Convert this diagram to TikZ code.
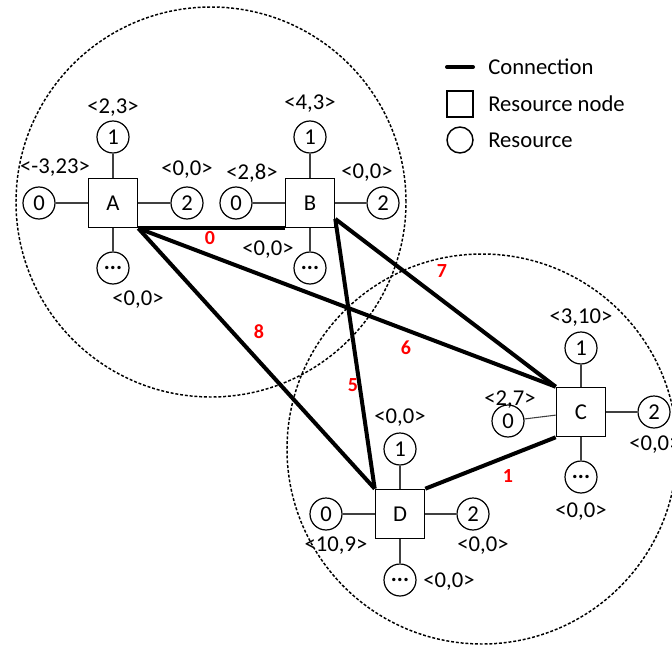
\documentclass[tikz,border=0pt]{standalone}
\usepackage{fontspec}
\setmainfont{Carlito}
\usetikzlibrary{calc}
\begin{document}
\begin{tikzpicture}[x=0.75pt,y=-0.75pt,
  every node/.style={font=\fontsize{17}{20}\selectfont, inner sep=0pt},
  rnode/.style={draw, line width=1.2pt, fill=white, minimum size=36.75pt},
  res/.style={draw, circle, line width=0.9pt, fill=white, minimum size=24pt},
  stub/.style={line width=0.8pt, black!75},
  conn/.style={line width=3pt},
  area/.style={line width=1.1pt, dash pattern=on 2.2pt off 1.4pt},
  wt/.style={text=red, font=\fontsize{15}{18}\selectfont\bfseries},
  lbl/.style={}]
\useasboundingbox (0,0) rectangle (672,646);

% coverage areas
\draw[area] (211,202) circle[radius=146.25pt];
\draw[area] (482,449) circle[radius=146.25pt];

% resource nodes
\node[rnode] (A) at (113,203) {A};
\node[rnode] (B) at (310,203) {B};
\node[rnode] (C) at (581,412) {C};
\node[rnode] (D) at (400,514) {D};

% resources of A
\node[res] (A0) at (39,203) {0};
\node[res] (A1) at (113,137) {1};
\node[res] (A2) at (187,203) {2};
\node[res] (A3) at (113,268) {\textbf{...}};
% resources of B
\node[res] (B0) at (236,203) {0};
\node[res] (B1) at (310,137) {1};
\node[res] (B2) at (383,203) {2};
\node[res] (B3) at (310,268) {\textbf{...}};
% resources of C
\node[res] (C0) at (508,421) {0};
\node[res] (C1) at (581,348) {1};
\node[res] (C2) at (654,412) {2};
\node[res] (C3) at (581,477) {\textbf{...}};
% resources of D
\node[res] (D0) at (326,514) {0};
\node[res] (D1) at (400,449) {1};
\node[res] (D2) at (473,514) {2};
\node[res] (D3) at (400,580) {\textbf{...}};

\foreach \n in {A,B,C,D}{
  \foreach \r in {0,1,2,3}{
    \draw[stub] (\n) -- (\n\r);
  }
}

% connections
\coordinate (Bx) at ([yshift=7pt]B.south east);
\draw[conn] (A.south east) -- (B.south west);
\draw[conn] (A.south east) -- (D.north west);
\draw[conn] (A.south east) -- (C.north west);
\draw[conn] (Bx) -- (D.north west);
\draw[conn] (Bx) -- (C.north west);
\draw[conn] (D.north east) -- (C.south west);

% connection weights
\node[wt] (w0) at (210,238) {0};
\node[wt] (w8) at (259,332) {8};
\node[wt] (w6) at (406,348) {6};
\node[wt] (w5) at (353,385) {5};
\node[wt] (w7) at (442,271) {7};
\node[wt] (w1) at (508,476) {1};

% resource values
\node[lbl] (lA1) at (113,108) {<2,3>};
\node[lbl] (lA0) at (55,168) {<-3,23>};
\node[lbl] (lA2) at (187,170) {<0,0>};
\node[lbl] (lA3) at (138,300) {<0,0>};
\node[lbl] (lB1) at (310,104) {<4,3>};
\node[lbl] (lB0) at (252,173) {<2,8>};
\node[lbl] (lB2) at (367,173) {<0,0>};
\node[lbl] (lB3) at (268,250) {<0,0>};
\node[lbl] (lC1) at (581,318) {<3,10>};
\node[lbl] (lC0) at (510,400) {<2,7>};
\node[lbl,anchor=west] (lC2) at (629,445) {<0,0>};
\node[lbl] (lC3) at (581,512) {<0,0>};
\node[lbl] (lD1) at (400,418) {<0,0>};
\node[lbl] (lD0) at (336,546) {<10,9>};
\node[lbl] (lD2) at (483,546) {<0,0>};
\node[lbl] (lD3) at (449,582) {<0,0>};

% legend
\coordinate (k1a) at (447,67);
\coordinate (k1b) at (473,67);
\draw[conn, line cap=round] (k1a) -- (k1b);
\node[anchor=west] (t1) at (488,67) {Connection};
\node[draw, line width=1.1pt, minimum size=19.5pt] (k2) at (460,104) {};
\node[anchor=west] (t2) at (488,104) {Resource node};
\node[draw, circle, line width=1.1pt, minimum size=19.5pt] (k3) at (460,140) {};
\node[anchor=west] (t3) at (488,140) {Resource};
\end{tikzpicture}
\end{document}
